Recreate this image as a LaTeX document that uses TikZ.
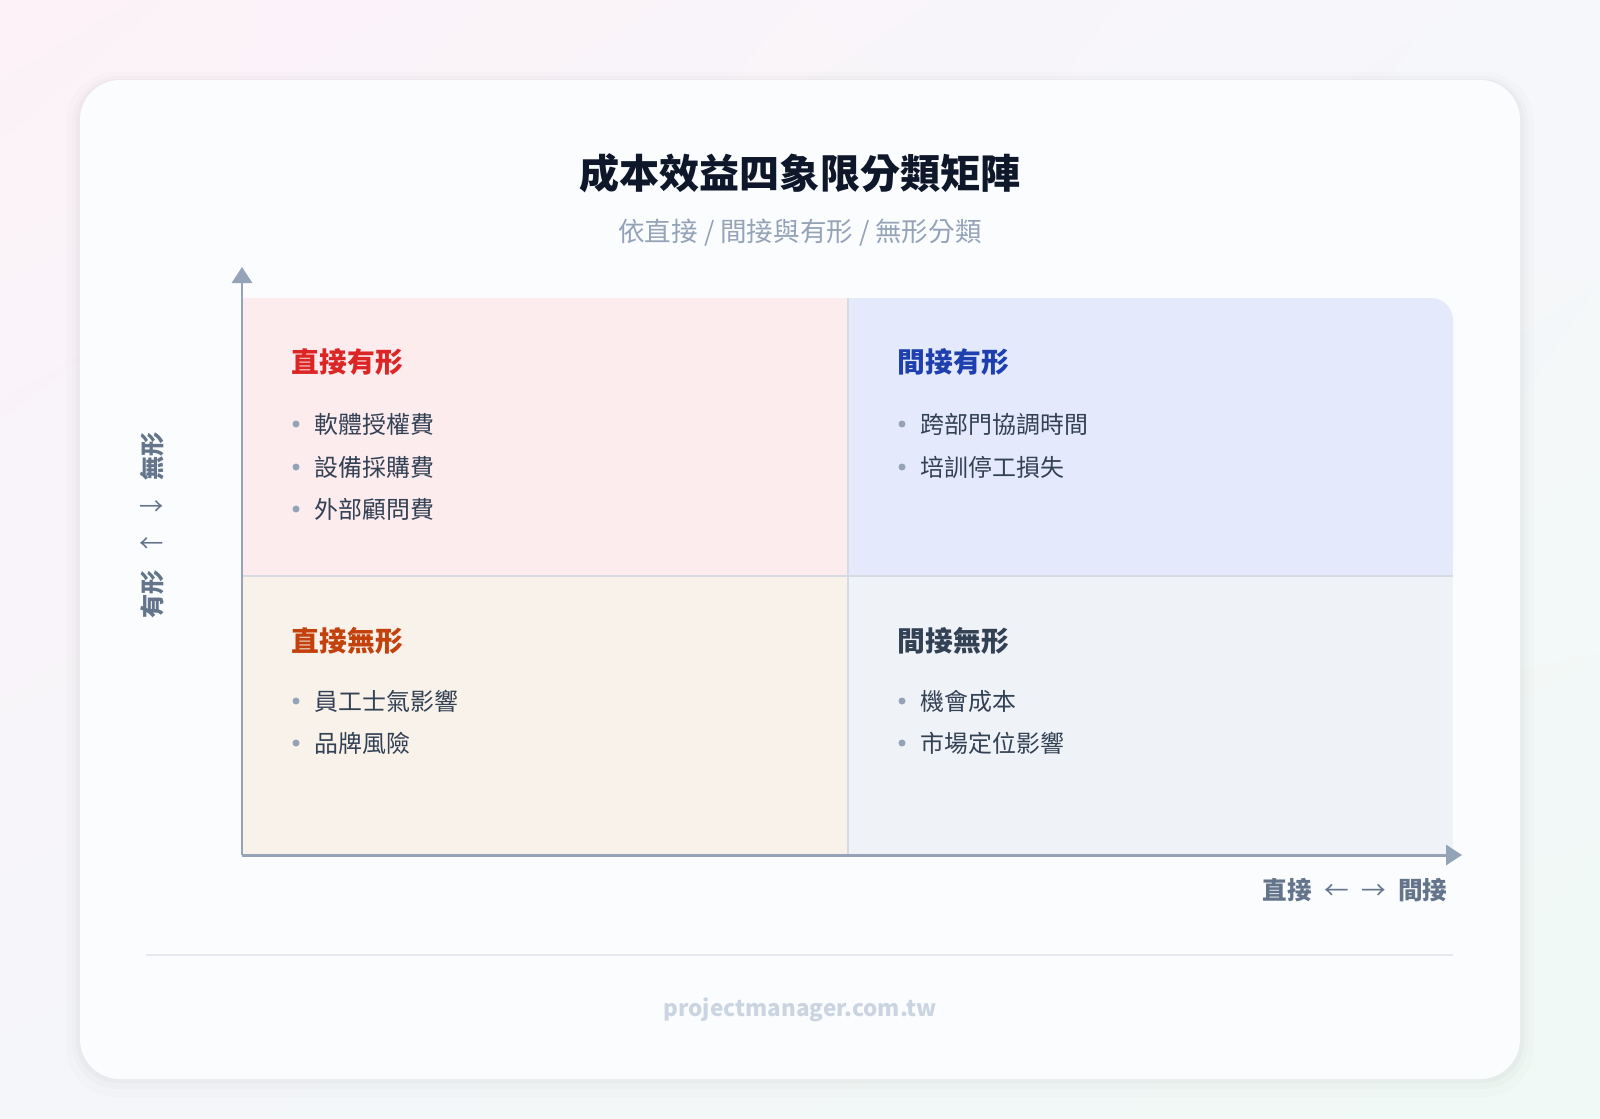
\documentclass[tikz,border=0pt]{standalone}
\usepackage{fontspec}
\setmainfont{Noto Sans CJK TC}
\usetikzlibrary{arrows.meta,shadings}

\definecolor{titlecol}{HTML}{0F172A}
\definecolor{subcol}{HTML}{94A3B8}
\definecolor{itemcol}{HTML}{334155}
\definecolor{dotcol}{HTML}{94A3B8}
\definecolor{axiscol}{HTML}{94A3B8}
\definecolor{axislabel}{HTML}{64748B}
\definecolor{footcol}{HTML}{CBD5E1}
\definecolor{sepcol}{HTML}{E5E9EF}
\definecolor{divcol}{HTML}{D6DBE3}
\definecolor{cardcol}{HTML}{FBFCFE}
\definecolor{tlfill}{HTML}{FDECEE}
\definecolor{trfill}{HTML}{E4EAFB}
\definecolor{blfill}{HTML}{F8F2EA}
\definecolor{brfill}{HTML}{EFF2F6}
\definecolor{tlhead}{HTML}{DC2626}
\definecolor{trhead}{HTML}{1E40AF}
\definecolor{blhead}{HTML}{C2410C}
\definecolor{brhead}{HTML}{334155}
\definecolor{bgul}{HTML}{FCF2F8}
\definecolor{bgur}{HTML}{F6F7FB}
\definecolor{bgll}{HTML}{F5F6FA}
\definecolor{bglr}{HTML}{F0F9F5}

\tikzset{
  quadhead/.style={anchor=west,inner sep=0pt,font=\fontsize{7.9}{9}\selectfont\bfseries},
  item/.style={anchor=west,inner sep=0pt,text=itemcol,font=\fontsize{6.8}{8}\selectfont},
  bullet/.style={circle,fill=dotcol,inner sep=0pt,minimum size=0.07cm},
  axis/.style={draw=axiscol,line width=0.85pt,-{Triangle[width=0.2cm,length=0.16cm]}},
  ytext/.style={rotate=90,inner sep=0pt,text=axislabel,font=\fontsize{6.9}{8}\selectfont\bfseries},
  yarrow/.style={inner sep=0pt,text=axislabel,font=\fontsize{6.9}{8}\selectfont}
}

\begin{document}
\begin{tikzpicture}[x=0.01cm,y=-0.01cm]
	\useasboundingbox (0,0) rectangle (1600,1118);
	% background and card
	\shade[upper left=bgul,upper right=bgur,lower left=bgll,lower right=bglr] (0,0) rectangle (1600,1118);
	\fill[black,opacity=0.012,rounded corners=0.5cm] (66,72) rectangle (1534,1097);
	\fill[black,opacity=0.015,rounded corners=0.46cm] (72,76) rectangle (1528,1089);
	\fill[black,opacity=0.02,rounded corners=0.42cm] (76,79) rectangle (1524,1083);
	\fill[cardcol,rounded corners=0.4cm] (80,80) rectangle (1520,1079);

	% title
	\node (title) at (800,173) {\fontsize{11.4}{13}\selectfont\bfseries\color{titlecol}成本效益四象限分類矩陣};
	\node (subtitle) at (800,233) {\fontsize{7.55}{9}\selectfont\color{subcol}依直接 / 間接與有形 / 無形分類};

	% quadrants
	\fill[tlfill] (243,298) rectangle (848,576);
	\fill[trfill,rounded corners=0.22cm] (848,298) rectangle (1453,576);
	\fill[trfill] (848,298) rectangle (1420,576);
	\fill[trfill] (848,330) rectangle (1453,576);
	\fill[blfill] (243,576) rectangle (848,855);
	\fill[brfill] (848,576) rectangle (1453,855);
	\draw[divcol,line width=0.7pt] (243,576) -- (1453,576);
	\draw[divcol,line width=0.7pt] (848,298) -- (848,855);

	% axes
	\coordinate (origin) at (242,855);
	\coordinate (ytop) at (242,267);
	\coordinate (xend) at (1462,855);
	\draw[axis] (origin) -- (ytop);
	\draw[axis] (origin) -- (xend);
	\node[ytext] (ylow) at (152,594) {有形};
	\node[yarrow] (ylarrow) at (152,545) {←};
	\node[yarrow] (yrarrow) at (152,508) {→};
	\node[ytext] (yhigh) at (152,456) {無形};
	\node[anchor=east,inner sep=0pt,text=axislabel,font=\fontsize{7}{8}\selectfont\bfseries] (xlabel) at (1448,890)
	     {直接\hspace{0.5em}{\mdseries ←}\hspace{0.5em}{\mdseries →}\hspace{0.5em}間接};

	% direct tangible
	\node[quadhead,text=tlhead] (tlhead) at (291,362) {直接有形};
	\node[bullet] (tldot1) at (296,424) {};
	\node[item] (tlitem1) at (314,424) {軟體授權費};
	\node[bullet] (tldot2) at (296,467) {};
	\node[item] (tlitem2) at (314,467) {設備採購費};
	\node[bullet] (tldot3) at (296,509) {};
	\node[item] (tlitem3) at (314,509) {外部顧問費};

	% indirect tangible
	\node[quadhead,text=trhead] (trhead) at (897,362) {間接有形};
	\node[bullet] (trdot1) at (902,424) {};
	\node[item] (tritem1) at (920,424) {跨部門協調時間};
	\node[bullet] (trdot2) at (902,467) {};
	\node[item] (tritem2) at (920,467) {培訓停工損失};

	% direct intangible
	\node[quadhead,text=blhead] (blhead) at (291,641) {直接無形};
	\node[bullet] (bldot1) at (296,701) {};
	\node[item] (blitem1) at (314,701) {員工士氣影響};
	\node[bullet] (bldot2) at (296,743) {};
	\node[item] (blitem2) at (314,743) {品牌風險};

	% indirect intangible
	\node[quadhead,text=brhead] (brhead) at (897,641) {間接無形};
	\node[bullet] (brdot1) at (902,701) {};
	\node[item] (britem1) at (920,701) {機會成本};
	\node[bullet] (brdot2) at (902,743) {};
	\node[item] (britem2) at (920,743) {市場定位影響};

	% footer
	\draw[sepcol,line width=0.7pt] (146,955) -- (1453,955);
	\node[text=footcol,font=\fontsize{6.4}{8}\selectfont\bfseries] (footer) at (800,1010) {projectmanager.com.tw};
\end{tikzpicture}
\end{document}
